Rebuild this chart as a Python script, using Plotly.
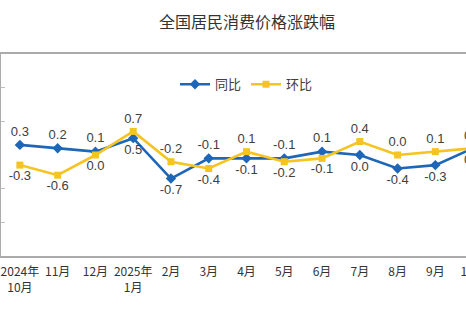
import plotly.graph_objects as go

# Month labels (Oct 2024 - Oct 2025)
months = ["2024年<br>10月", "11月", "12月", "2025年<br>1月", "2月", "3月", "4月",
          "5月", "6月", "7月", "8月", "9月", "10月"]
# Year-on-year change (%)
yoy = [0.3, 0.2, 0.1, 0.5, -0.7, -0.1, -0.1, -0.1, 0.1, 0.0, -0.4, -0.3, 0.2]
# Month-on-month change (%)
mom = [-0.3, -0.6, 0.0, 0.7, -0.2, -0.4, 0.1, -0.2, -0.1, 0.4, 0.0, 0.1, 0.2]

y_min, y_max = -3, 3
x = list(range(len(months)))

BLUE = "#1D66B8"
YELLOW = "#F5C420"
GRID = "#BFBFBF"
LABEL_FONT = dict(family="Liberation Sans, Arial", size=13, color="#404040")

# The higher of the two series gets its label above, the other below
yoy_pos = ["top center" if a > b else "bottom center" for a, b in zip(yoy, mom)]
mom_pos = ["bottom center" if a > b else "top center" for a, b in zip(yoy, mom)]

fig = go.Figure()
fig.add_trace(go.Scatter(
    x=x, y=yoy, name="同比", mode="lines+markers+text",
    line=dict(color=BLUE, width=2.6),
    marker=dict(symbol="diamond", size=8, color=BLUE),
    text=[f"{v:.1f}" for v in yoy], textposition=yoy_pos, textfont=LABEL_FONT,
))
fig.add_trace(go.Scatter(
    x=x, y=mom, name="环比", mode="lines+markers+text",
    line=dict(color=YELLOW, width=2.6),
    marker=dict(symbol="square", size=7, color=YELLOW),
    text=[f"{v:.1f}" for v in mom], textposition=mom_pos, textfont=LABEL_FONT,
))

x_range = [-0.5, len(months) - 0.5]
zero_pos = (0 - y_min) / (y_max - y_min)

fig.update_layout(
    width=494, height=324,
    margin=dict(l=1, r=0, t=54, b=68),
    paper_bgcolor="white", plot_bgcolor="white",
    title=dict(text="全国居民消费价格涨跌幅", x=0.5, xanchor="center",
               y=(324 - 22) / 324, yanchor="middle", yref="container",
               font=dict(family="Noto Sans CJK SC", size=16, color="#333333")),
    legend=dict(orientation="h", x=0.5, xanchor="center", y=0.85, yanchor="middle",
                font=dict(family="Noto Sans CJK SC", size=13, color="#404040"),
                bgcolor="rgba(0,0,0,0)", itemwidth=30),
    showlegend=True,
    xaxis=dict(range=x_range, tickvals=x, ticktext=months, showgrid=False,
               zeroline=False, showline=True, mirror=True, linecolor="#ABABAB",
               linewidth=1.5, ticks="", ticklabelstandoff=4,
               tickfont=dict(family="Noto Sans CJK SC", size=12, color="#333333")),
    xaxis2=dict(range=x_range, overlaying="x", anchor="free", position=zero_pos,
                side="bottom", showline=True, linecolor=GRID, linewidth=1.5,
                ticks="outside", ticklen=4, tickcolor=GRID, tickwidth=1,
                tickvals=[i + 0.5 for i in x[:-1]], showticklabels=False,
                showgrid=False, zeroline=False),
    yaxis=dict(range=[y_min, y_max], showgrid=False, zeroline=False,
               showline=True, mirror=True, linecolor="#ABABAB", linewidth=1.5,
               ticks="inside", ticklen=4, tickcolor=GRID,
               tickvals=[-2, -1, 1, 2], showticklabels=False),
)

fig.write_html("out.html", post_script=(
    "document.documentElement.style.overflow='hidden';"
    "document.body.style.overflow='hidden';"
    "document.body.style.margin='0';"
))
